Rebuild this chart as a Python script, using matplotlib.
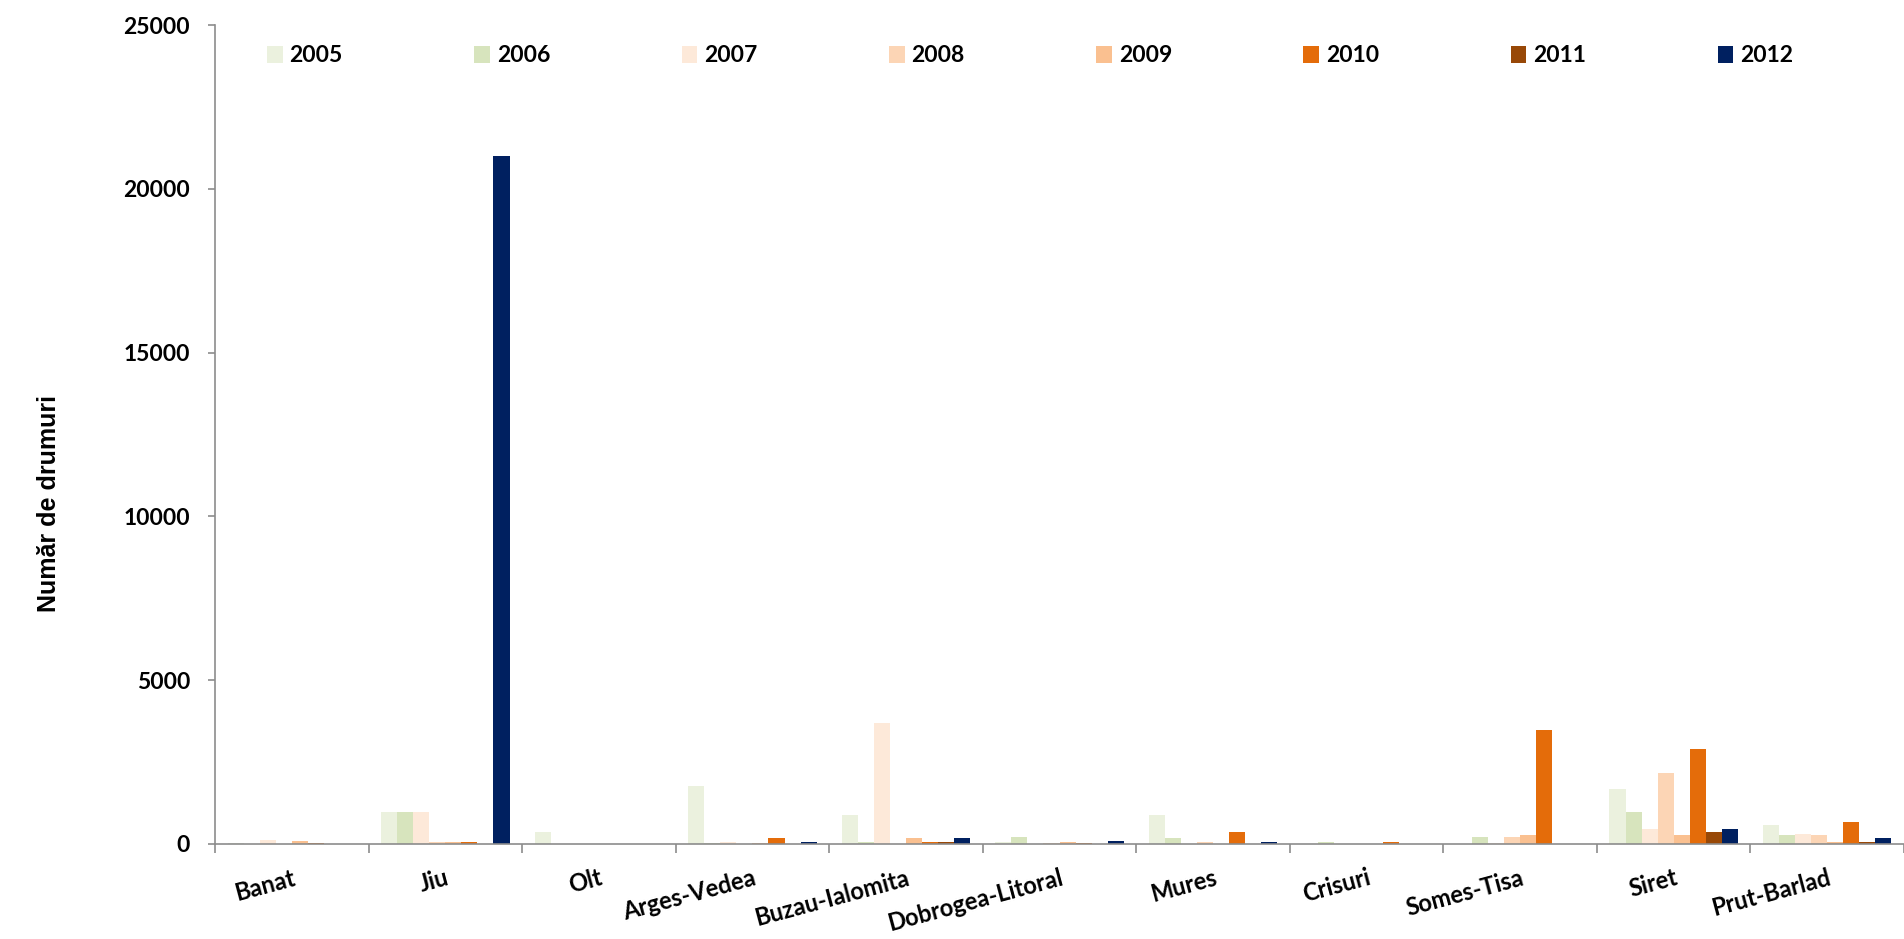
import numpy as np
import matplotlib.pyplot as plt

# bazine hidrografice (categorii pe axa X)
basins = ['Banat', 'Jiu', 'Olt', 'Arges-Vedea', 'Buzau-Ialomita', 'Dobrogea-Litoral',
          'Mures', 'Crisuri', 'Somes-Tisa', 'Siret', 'Prut-Barlad']
years = ['2005', '2006', '2007', '2008', '2009', '2010', '2011', '2012']

# numar de drumuri, cate o lista pe an (ordinea bazinelor de mai sus)
v2005 = [40, 980, 360, 1780, 880, 70, 880, 0, 0, 1680, 570]
v2006 = [0, 980, 0, 30, 70, 220, 170, 70, 220, 970, 270]
v2007 = [130, 980, 0, 70, 3690, 10, 10, 0, 20, 470, 300]
v2008 = [0, 70, 0, 0, 0, 30, 70, 10, 220, 2180, 270]
v2009 = [100, 70, 15, 40, 170, 60, 0, 0, 270, 270, 70]
v2010 = [40, 70, 0, 180, 70, 40, 380, 70, 3490, 2890, 670]
v2011 = [0, 0, 10, 0, 70, 0, 0, 0, 0, 380, 60]
v2012 = [10, 21000, 10, 70, 180, 90, 70, 0, 0, 470, 170]

yticks = [0, 5000, 10000, 15000, 20000, 25000]

series = [v2005, v2006, v2007, v2008, v2009, v2010, v2011, v2012]
colors = ['#EBF1DE', '#D7E4BD', '#FDE9D9', '#FCD5B5', '#FAC090', '#E46C0A', '#984807', '#002060']

W, H = 1904, 939
fig = plt.figure(figsize=(W / 100, H / 100), dpi=100)
ax = fig.add_axes([215 / W, 1 - 844 / H, 1 - 215 / W, (844 - 25) / H])

gray = '#8C8C8C'
font = 'Lato'
wt = 'bold'
fs = 16.5

x = np.arange(len(basins))
bw = 0.1045
start = 0.082
bars = []
for k, vals in enumerate(series):
    b = ax.bar(x + start + k * bw, vals, width=bw, align='edge', color=colors[k],
               linewidth=0, label=years[k])
    bars.append(b)

ax.set_xlim(0, (W - 215) / 154.7)
ax.set_ylim(0, 25000)

# spini
for s in ['top', 'right']:
    ax.spines[s].set_visible(False)
for s in ['left', 'bottom']:
    ax.spines[s].set_color(gray)
    ax.spines[s].set_linewidth(1.2)

# axa Y
ax.set_yticks(yticks)
ax.set_yticklabels([str(t) for t in yticks], fontfamily=font, fontweight=wt, fontsize=fs)
ax.tick_params(axis='y', length=5, width=1.2, color=gray, pad=13)

# axa X: etichete la mijloc, liniute intre grupuri
ax.set_xticks(x + 0.5)
ax.set_xticklabels(basins, fontfamily=font, fontweight=wt, fontsize=17,
                   rotation=15, ha='right', va='top', rotation_mode='anchor')
ax.set_xticks(np.arange(0, len(basins) + 1), minor=True)
ax.tick_params(axis='x', which='major', length=0, pad=16)
ax.tick_params(axis='x', which='minor', length=6.5, width=1.2, color=gray)

fig.text(49 / W, 1 - 504 / H, 'Număr de drumuri', rotation=90, ha='center', va='center',
         fontfamily='Liberation Sans', fontweight='bold', fontsize=18)

# legenda pe un rand
lh = 0.04
fig.legend(handles=bars, labels=years, loc='center', ncol=8, mode='expand',
           bbox_to_anchor=(267 / W, 1 - 56 / H - lh / 2, (1793 - 267) / W, lh),
           frameon=False, borderpad=0, borderaxespad=0, handlelength=0.68,
           handleheight=0.75, handletextpad=0.3,
           prop={'family': font, 'weight': wt, 'size': fs})

fig.savefig('out.png', dpi=100)
print('done')
